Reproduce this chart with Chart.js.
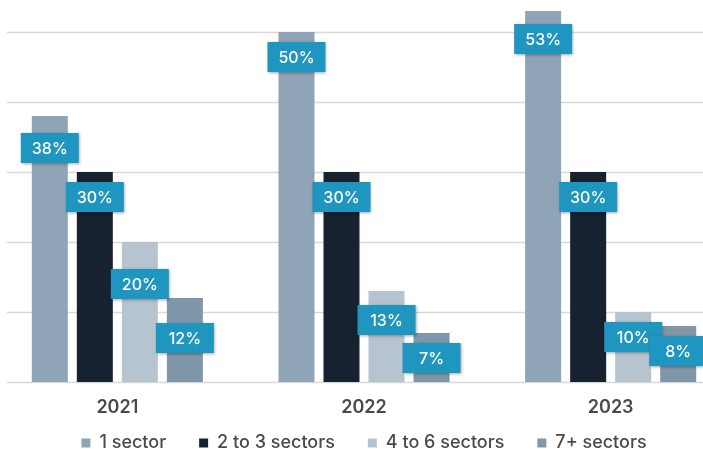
<!DOCTYPE html>
<html>
<head>
<meta charset="utf-8">
<script src="https://cdn.jsdelivr.net/npm/chart.js@4"></script>
<style>
  html, body { margin: 0; padding: 0; background: #fff; }
  #wrap { position: relative; width: 703px; height: 449px; overflow: hidden; }
  #sectorChart { position: absolute; left: -6px; top: 0; }
</style>
</head>
<body>
<div id="wrap">
  <canvas id="sectorChart" width="740" height="449"></canvas>
</div>
<script>
const years = ['2021', '2022', '2023'];
const oneSector = [38, 50, 53];
const twoToThreeSectors = [30, 30, 30];
const fourToSixSectors = [20, 13, 10];
const sevenPlusSectors = [12, 7, 8];
const gridValues = [0, 10, 20, 30, 40, 50];

// extra drop for a few value boxes so they don't sit on each other
const labelNudge = { '0-0': 7, '2-0': 17, '3-0': 15, '2-1': 4, '0-2': 3 };

const FONT = 'Inter, "Open Sans", sans-serif';

/**
 * horizontal rules, starting a little in from the left edge
 */
const ruleLines = {
    id: 'ruleLines',
    beforeDatasetsDraw(chart) {
        const ctx = chart.ctx;
        const y = chart.scales.y;
        ctx.save();
        ctx.strokeStyle = '#d9d9d9';
        ctx.lineWidth = 1.5;
        gridValues.forEach((v) => {
            const py = Math.round(y.getPixelForValue(v)) + 0.5;
            ctx.beginPath();
            ctx.moveTo(13, py);
            ctx.lineTo(chart.width, py);
            ctx.stroke();
        });
        ctx.restore();
    },
};

/**
 * teal value boxes hanging just under the top of each bar
 */
const valueBoxes = {
    id: 'valueBoxes',
    afterDatasetsDraw(chart) {
        const ctx = chart.ctx;
        ctx.save();
        ctx.font = '500 16px ' + FONT;
        ctx.textAlign = 'center';
        ctx.textBaseline = 'middle';
        chart.data.datasets.forEach((ds, di) => {
            chart.getDatasetMeta(di).data.forEach((bar, i) => {
                const cx = bar.x;
                const cy = bar.y + 25 + (labelNudge[di + '-' + i] || 0);
                const w = 58;
                const h = 30;
                ctx.shadowColor = 'rgba(0,0,0,0.35)';
                ctx.shadowBlur = 3;
                ctx.shadowOffsetX = 1;
                ctx.shadowOffsetY = 1;
                ctx.fillStyle = '#1f96bf';
                ctx.fillRect(cx - w / 2, cy - h / 2, w, h);
                ctx.shadowColor = 'transparent';
                ctx.fillStyle = '#ffffff';
                ctx.fillText(ds.data[i] + '%', cx, cy + 1);
            });
        });
        ctx.restore();
    },
};

/**
 * short legend strip at the very bottom, items pulled up a bit
 * (labels.padding also sets the gap between items)
 */
const legendStrip = {
    id: 'legendStrip',
    afterInit(chart) {
        const fit = chart.legend.fit;
        chart.legend.fit = function () {
            fit.call(this);
            this.height = 30;
        };
    },
    afterLayout(chart) {
        chart.legend.top -= 18;
    },
};

const ctx = document.getElementById('sectorChart');
const myChart = new Chart(ctx, {
    type: 'bar',
    data: {
        labels: years,
        datasets: [
            {
                label: '1 sector',
                data: oneSector,
                backgroundColor: '#8fa4b6',
            },
            {
                label: '2 to 3 sectors',
                data: twoToThreeSectors,
                backgroundColor: '#16222f',
            },
            {
                label: '4 to 6 sectors',
                data: fourToSixSectors,
                backgroundColor: '#b6c4d0',
            },
            {
                label: '7+ sectors',
                data: sevenPlusSectors,
                backgroundColor: '#8096a9',
            },
        ],
    },
    options: {
        responsive: false,
        animation: false,
        categoryPercentage: 0.73,
        barPercentage: 0.8,
        layout: {
            padding: { top: 4, left: 0, right: 0, bottom: 0 },
        },
        scales: {
            x: {
                grid: { display: false, drawTicks: false },
                border: { display: false },
                ticks: {
                    color: '#4a4a4a',
                    padding: 15,
                    font: { family: FONT, size: 18, weight: '600' },
                },
                afterFit(scale) {
                    scale.height = 37;
                },
            },
            y: {
                display: false,
                min: 0,
                max: 54,
            },
        },
        plugins: {
            legend: {
                position: 'bottom',
                labels: {
                    color: '#4a4a4a',
                    boxWidth: 9,
                    boxHeight: 9,
                    padding: 33,
                    font: { family: FONT, size: 18, weight: '500' },
                },
            },
            tooltip: { enabled: false },
        },
    },
    plugins: [ruleLines, valueBoxes, legendStrip],
});
</script>
</body>
</html>
